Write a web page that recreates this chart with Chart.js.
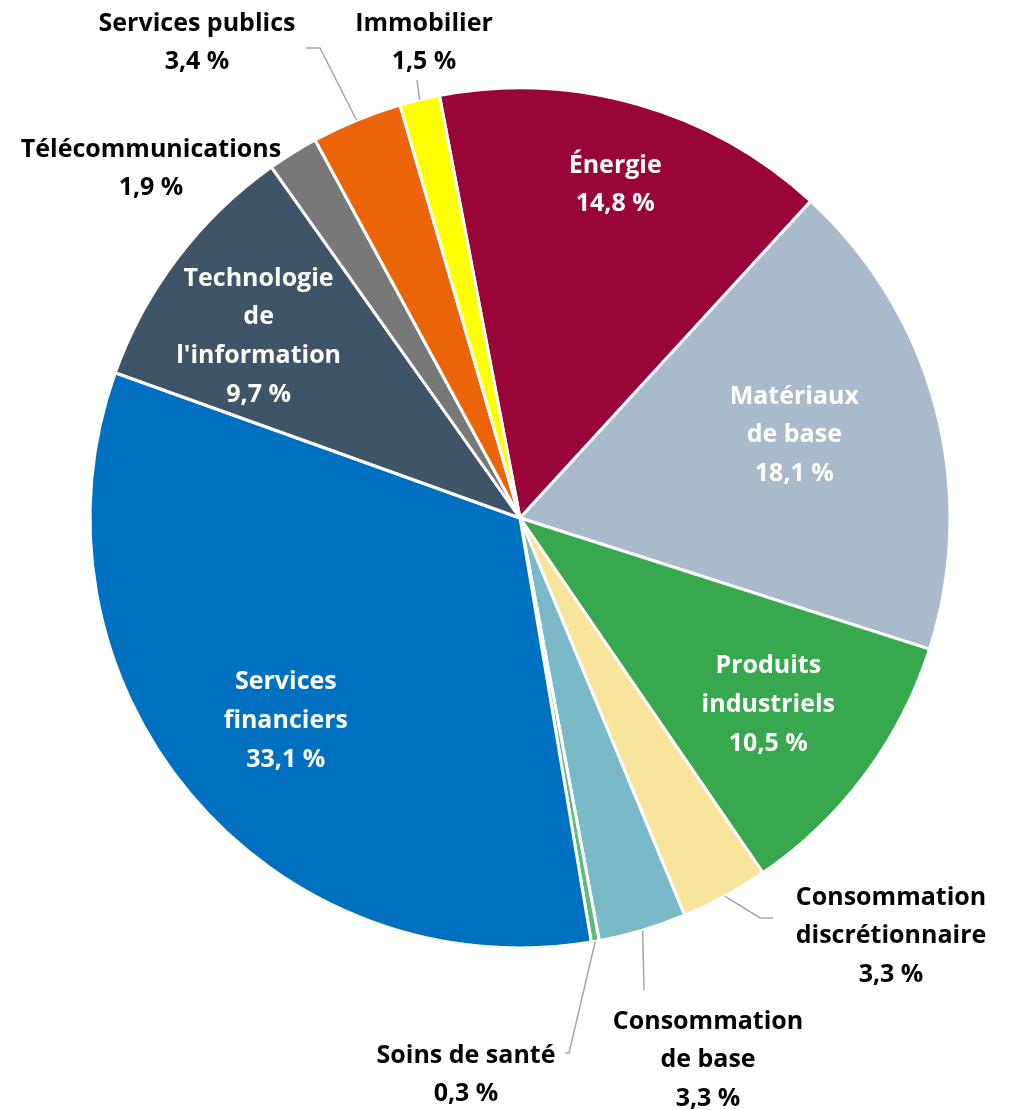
<!DOCTYPE html>
<html>
<head>
<meta charset="utf-8">
<script src="https://cdn.jsdelivr.net/npm/chart.js@4.4.0/dist/chart.umd.min.js"></script>
<style>
  html, body { margin: 0; padding: 0; background: #fff; }
  #wrap { width: 1010px; height: 1110px; position: relative; }
</style>
</head>
<body>
<div id="wrap"><canvas id="pieChart"></canvas></div>
<script>
// --- DATA ---
const sectors = [
    ['Énergie'],
    ['Matériaux', 'de base'],
    ['Produits', 'industriels'],
    ['Consommation', 'discrétionnaire'],
    ['Consommation', 'de base'],
    ['Soins de santé'],
    ['Services', 'financiers'],
    ['Technologie', 'de', "l'information"],
    ['Télécommunications'],
    ['Services publics'],
    ['Immobilier']
];
const weights = [14.8, 18.1, 10.5, 3.3, 3.3, 0.3, 33.1, 9.7, 1.9, 3.4, 1.5];
const sliceColors = ['#990538', '#a9bacb', '#38a84f', '#f8e49b', '#79b9c8', '#5dba7d',
                     '#0070c0', '#3f5466', '#787878', '#ec6408', '#ffff00'];

// --- LABEL PLACEMENT (inside: radius factor; outside: text centre + leader elbow) ---
const labelPlacement = [
    { inside: true, r: 0.81 },
    { inside: true, r: 0.66, dy: -12 },
    { inside: true, r: 0.72 },
    { x: 891, y: 934, leader: [[760, 918], [773, 918]] },
    { x: 708, y: 1058, leader: [[644, 990]] },
    { x: 466, y: 1073, leader: [[569, 1053], [565, 1053]] },
    { inside: true, r: 0.71, dy: 5 },
    { inside: true, r: 0.74, dy: 9, dx: -8 },
    { x: 151, y: 167 },
    { x: 197, y: 41, leader: [[320, 48], [306, 48]] },
    { x: 424, y: 41, leader: [[417, 80]] }
];

const FONT = 'bold 25px "Open Sans", Lato, sans-serif';
const LINE_H = 38.6;
const TEXT_SHIFT = 2;

const fmt = v => v.toFixed(1).replace('.', ',') + ' %';

const pieLabels = {
    id: 'pieLabels',
    afterDatasetsDraw(chart) {
        const ctx = chart.ctx;
        const arcs = chart.getDatasetMeta(0).data;
        ctx.save();
        ctx.font = FONT;
        ctx.textAlign = 'center';
        ctx.textBaseline = 'middle';
        arcs.forEach((arc, i) => {
            const p = labelPlacement[i];
            const mid = (arc.startAngle + arc.endAngle) / 2;
            const lines = sectors[i].concat([fmt(weights[i])]);
            let cx, cy;
            if (p.inside) {
                cx = arc.x + Math.cos(mid) * arc.outerRadius * p.r + (p.dx || 0);
                cy = arc.y + Math.sin(mid) * arc.outerRadius * p.r + (p.dy || 0);
                ctx.fillStyle = '#ffffff';
            } else {
                cx = p.x;
                cy = p.y;
                ctx.fillStyle = '#000000';
                if (p.leader) {
                    ctx.beginPath();
                    ctx.strokeStyle = '#a6a6a6';
                    ctx.lineWidth = 1.5;
                    ctx.moveTo(arc.x + Math.cos(mid) * arc.outerRadius, arc.y + Math.sin(mid) * arc.outerRadius);
                    p.leader.forEach(pt => ctx.lineTo(pt[0], pt[1]));
                    ctx.stroke();
                }
            }
            const top = cy - (lines.length - 1) * LINE_H / 2 + TEXT_SHIFT;
            lines.forEach((t, k) => ctx.fillText(t, cx, top + k * LINE_H));
        });
        ctx.restore();
    }
};

function renderPie() {
    const ctx = document.getElementById('pieChart').getContext('2d');
    new Chart(ctx, {
        type: 'pie',
        data: {
            labels: sectors.map(s => s.join(' ')),
            datasets: [{
                data: weights,
                backgroundColor: sliceColors,
                borderColor: '#ffffff',
                borderWidth: 3
            }]
        },
        options: {
            responsive: true,
            maintainAspectRatio: false,
            animation: false,
            rotation: -10.8,
            radius: 430,
            layout: { padding: { left: 90, right: 60, top: 88, bottom: 162 } },
            plugins: {
                legend: { display: false },
                tooltip: { enabled: false }
            }
        },
        plugins: [pieLabels]
    });
}

renderPie();
</script>
</body>
</html>
